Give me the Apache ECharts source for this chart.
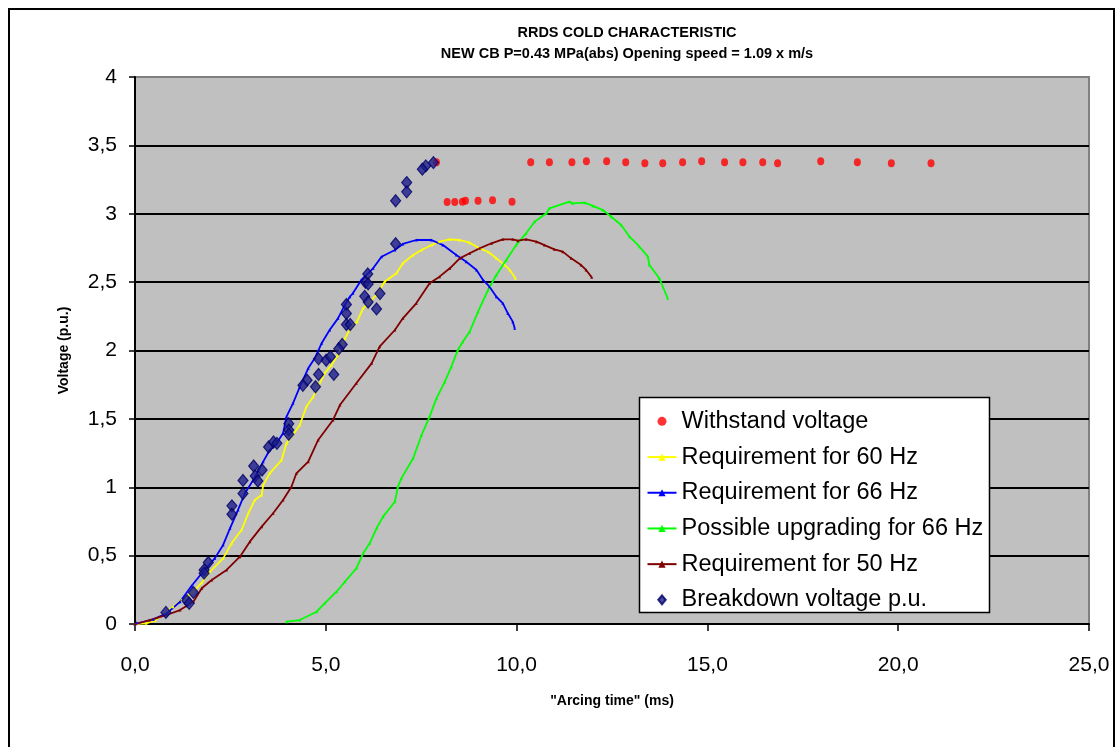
<!DOCTYPE html>
<html><head><meta charset="utf-8">
<script src="https://cdn.jsdelivr.net/npm/echarts@6/dist/echarts.min.js"></script>
<style>html,body{margin:0;padding:0;background:#fff}#c{width:1115px;height:747px}</style>
</head><body><div id="c"></div>
<script>
const titleText = 'RRDS COLD CHARACTERISTIC\nNEW CB P=0.43 MPa(abs) Opening speed = 1.09 x m/s';
const xAxisName = '"Arcing time" (ms)';
const yAxisName = 'Voltage (p.u.)';
const xTickLabels = ['0,0', '5,0', '10,0', '15,0', '20,0', '25,0'];
const yTickLabels = ['0', '0,5', '1', '1,5', '2', '2,5', '3', '3,5', '4'];
const seriesNames = ['Withstand voltage', 'Requirement for 60 Hz', 'Requirement for 66 Hz',
  'Possible upgrading for 66 Hz', 'Requirement for 50 Hz', 'Breakdown voltage p.u.'];

// Withstand voltage (red dots)
const withstandTime = [7.90, 10.37, 10.86, 11.45, 11.83, 12.36, 12.86, 13.36, 13.83, 14.35, 14.85, 15.45, 15.93, 16.45, 16.84, 17.97, 18.93, 19.82, 20.86,
  8.18, 8.38, 8.58, 8.66, 8.99, 9.37, 9.88];
const withstandVolt = [3.376, 3.376, 3.376, 3.376, 3.384, 3.384, 3.376, 3.369, 3.369, 3.376, 3.384, 3.376, 3.376, 3.376, 3.369, 3.384, 3.376, 3.369, 3.369,
  3.086, 3.086, 3.088, 3.095, 3.095, 3.098, 3.088];

// Requirement for 60 Hz (yellow)
const req60Time = [0, 0.29, 0.52, 1.00, 1.22, 1.53, 1.75, 1.96, 2.31, 2.53, 2.79, 2.97, 3.14, 3.32, 3.36, 3.53, 3.84, 3.97, 4.32, 4.49, 4.67, 4.97, 5.15, 5.32, 5.50, 5.67, 5.82, 5.98, 6.15, 6.33, 6.54, 6.85, 7.02, 7.29, 7.51, 7.77, 7.98, 8.25, 8.51, 8.77, 9.03, 9.25, 9.47, 9.69, 9.82, 9.97];
const req60Volt = [0, 0.005, 0.024, 0.127, 0.176, 0.236, 0.302, 0.382, 0.480, 0.590, 0.687, 0.810, 0.907, 0.943, 1.016, 1.102, 1.199, 1.321, 1.455, 1.589, 1.662, 1.833, 1.894, 1.967, 2.089, 2.174, 2.211, 2.309, 2.357, 2.406, 2.503, 2.565, 2.638, 2.698, 2.735, 2.771, 2.796, 2.813, 2.808, 2.788, 2.747, 2.722, 2.674, 2.625, 2.589, 2.528];

// Requirement for 66 Hz (blue)
const req66Time = [0, 0.04, 0.48, 0.83, 1.18, 1.48, 1.75, 2.09, 2.31, 2.49, 2.70, 2.88, 3.10, 3.36, 3.53, 3.71, 3.88, 3.97, 4.14, 4.32, 4.54, 4.71, 4.89, 5.10, 5.32, 5.50, 5.63, 5.71, 5.93, 6.24, 6.46, 6.81, 7.02, 7.37, 7.77, 8.07, 8.42, 8.68, 8.95, 9.12, 9.29, 9.47, 9.64, 9.77, 9.90, 9.95];
const req66Volt = [0, 0.01, 0.034, 0.078, 0.163, 0.278, 0.371, 0.480, 0.578, 0.700, 0.834, 0.956, 1.053, 1.187, 1.272, 1.321, 1.395, 1.516, 1.614, 1.735, 1.870, 1.943, 2.053, 2.150, 2.235, 2.333, 2.393, 2.418, 2.516, 2.601, 2.686, 2.735, 2.779, 2.808, 2.808, 2.771, 2.698, 2.649, 2.589, 2.516, 2.467, 2.393, 2.345, 2.272, 2.211, 2.162];

// Possible upgrading for 66 Hz (green)
const upg66Time = [3.97, 4.32, 4.76, 4.97, 5.28, 5.50, 5.80, 5.98, 6.15, 6.33, 6.50, 6.81, 6.89, 6.98, 7.29, 7.51, 7.72, 7.90, 8.12, 8.29, 8.46, 8.59, 8.77, 8.99, 9.25, 9.47, 9.73, 9.99, 10.25, 10.47, 10.78, 10.86, 11.39, 11.47, 11.78, 12.00, 12.26, 12.48, 12.74, 12.96, 13.22, 13.44, 13.48, 13.74, 13.96];
const upg66Volt = [0.017, 0.029, 0.090, 0.151, 0.236, 0.309, 0.407, 0.517, 0.590, 0.700, 0.785, 0.894, 1.004, 1.065, 1.212, 1.382, 1.516, 1.650, 1.772, 1.882, 2.004, 2.064, 2.137, 2.284, 2.442, 2.552, 2.662, 2.772, 2.857, 2.942, 3.003, 3.040, 3.088, 3.076, 3.081, 3.057, 3.027, 2.978, 2.918, 2.832, 2.759, 2.686, 2.625, 2.528, 2.382];

// Requirement for 50 Hz (brown)
const req50Time = [0, 0.39, 0.83, 1.18, 1.53, 1.75, 2.01, 2.40, 2.75, 3.01, 3.32, 3.62, 3.88, 4.10, 4.23, 4.54, 4.80, 5.19, 5.37, 5.80, 6.20, 6.41, 6.81, 7.02, 7.37, 7.72, 7.98, 8.25, 8.51, 8.77, 9.03, 9.34, 9.64, 9.90, 10.03, 10.25, 10.52, 10.73, 10.99, 11.21, 11.43, 11.69, 11.82, 11.97];
const req50Volt = [0, 0.029, 0.066, 0.102, 0.163, 0.261, 0.322, 0.395, 0.492, 0.602, 0.712, 0.810, 0.907, 1.004, 1.102, 1.187, 1.346, 1.492, 1.601, 1.760, 1.906, 2.028, 2.150, 2.235, 2.345, 2.491, 2.540, 2.601, 2.674, 2.711, 2.747, 2.784, 2.813, 2.813, 2.803, 2.813, 2.796, 2.771, 2.740, 2.723, 2.674, 2.625, 2.589, 2.535];

// Breakdown voltage p.u. (navy diamonds)
const breakdownTime = [7.82, 7.62, 7.53, 7.12, 7.12, 6.83, 6.83, 6.10, 6.04, 6.11, 5.54, 6.02, 6.11, 6.42, 6.33, 5.54, 5.54, 5.64, 5.43, 5.34, 4.81, 5.01, 5.12, 4.81, 5.21, 4.51, 4.40, 4.73, 4.03, 4.03, 4.03, 3.50, 3.63, 3.72, 3.11, 3.33, 3.15, 2.83, 3.22, 2.83, 2.54, 2.54, 1.92, 1.81, 1.81, 1.53, 1.36, 1.42, 0.81];
const breakdownVolt = [3.374, 3.350, 3.326, 3.228, 3.16, 3.095, 2.781, 2.560, 2.499, 2.487, 2.336, 2.396, 2.355, 2.416, 2.304, 2.270, 2.190, 2.190, 2.044, 2.012, 1.939, 1.929, 1.954, 1.825, 1.825, 1.783, 1.745, 1.735, 1.465, 1.418, 1.387, 1.294, 1.331, 1.321, 1.155, 1.126, 1.082, 1.05, 1.046, 0.954, 0.864, 0.803, 0.450, 0.394, 0.372, 0.231, 0.170, 0.151, 0.085];

const zip = (a, b) => a.map((v, i) => [v, b[i]]);
const FONT = 'Liberation Sans, Arial, sans-serif';
const DIAMOND = 'path://M5,0L10,6L5,12L0,6Z';

function lineSeries(name, t, v, color) {
  return {
    name, type: 'line', data: zip(t, v), color,
    lineStyle: { color, width: 1.8 },
    itemStyle: { color },
    symbol: 'triangle', symbolSize: 3, showSymbol: true,
    smooth: false, animation: false, z: 2
  };
}

const chart = echarts.init(document.getElementById('c'), null, { renderer: 'canvas' });
chart.setOption({
  animation: false,
  backgroundColor: '#ffffff',
  textStyle: { fontFamily: FONT },
  title: {
    text: titleText, left: 627, top: 22, padding: 0, textAlign: 'center',
    textStyle: { fontFamily: FONT, fontSize: 14.5, fontWeight: 'bold', color: '#000', lineHeight: 21 }
  },
  grid: {
    left: 135, right: 26, top: 77, bottom: 123, show: true,
    backgroundColor: '#c0c0c0', borderColor: '#808080', borderWidth: 2
  },
  xAxis: {
    type: 'value', min: 0, max: 25, interval: 5,
    name: xAxisName, nameLocation: 'middle', nameGap: 70,
    nameTextStyle: { fontFamily: FONT, fontSize: 14, fontWeight: 'bold', color: '#000' },
    axisLine: { show: true, onZero: false, lineStyle: { color: '#000', width: 2 } },
    axisTick: { show: true, inside: false, length: 7, lineStyle: { color: '#000', width: 1.5 } },
    axisLabel: { margin: 31, fontSize: 21, color: '#000', fontFamily: FONT,
      formatter: v => xTickLabels[Math.round(v / 5)] },
    splitLine: { show: false }
  },
  yAxis: {
    type: 'value', min: 0, max: 4, interval: 0.5,
    name: yAxisName, nameLocation: 'middle', nameGap: 64, nameRotate: 90,
    nameTextStyle: { fontFamily: FONT, fontSize: 14, fontWeight: 'bold', color: '#000' },
    axisLine: { show: true, onZero: false, lineStyle: { color: '#000', width: 2 } },
    axisTick: { show: true, inside: false, length: 6, lineStyle: { color: '#000', width: 1.5 } },
    axisLabel: { margin: 18, fontSize: 21, color: '#000', fontFamily: FONT,
      formatter: v => yTickLabels[Math.round(v / 0.5)] },
    splitLine: { show: true, showMinLine: false, showMaxLine: false, lineStyle: { color: '#000', width: 2 } }
  },
  legend: {
    orient: 'vertical', left: 646.5, top: 408.5, padding: 0,
    itemWidth: 29, itemHeight: 9, itemGap: 10, symbolKeepAspect: true,
    textStyle: { fontFamily: FONT, fontSize: 23.5, lineHeight: 25.7, color: '#000' },
    data: [
      { name: seriesNames[0], icon: 'circle' },
      { name: seriesNames[1] },
      { name: seriesNames[2] },
      { name: seriesNames[3] },
      { name: seriesNames[4] },
      { name: seriesNames[5], icon: DIAMOND }
    ],
    z: 10
  },
  graphic: [
    { type: 'polyline', z: 0, silent: true,
      shape: { points: [[9, 760], [9, 9], [1114, 9], [1114, 760]] },
      style: { stroke: '#000', lineWidth: 2, fill: null } },
    { type: 'rect', z: 5, silent: true,
      shape: { x: 639.5, y: 397.5, width: 350, height: 215 },
      style: { fill: '#ffffff', stroke: '#000', lineWidth: 1.5 } }
  ],
  series: [
    {
      name: seriesNames[0], type: 'scatter', data: zip(withstandTime, withstandVolt),
      symbol: 'circle', symbolSize: [7, 8], itemStyle: { color: '#ff0000' }, z: 3
    },
    lineSeries(seriesNames[1], req60Time, req60Volt, '#ffff00'),
    lineSeries(seriesNames[2], req66Time, req66Volt, '#0000ff'),
    lineSeries(seriesNames[3], upg66Time, upg66Volt, '#00ff00'),
    lineSeries(seriesNames[4], req50Time, req50Volt, '#800000'),
    {
      name: seriesNames[5], type: 'scatter', data: zip(breakdownTime, breakdownVolt),
      symbol: 'diamond', symbolSize: [10, 12],
      itemStyle: { color: '#1c1c8c', borderColor: '#000066', borderWidth: 1.2 }, z: 4
    }
  ]
});
</script>
</body></html>
